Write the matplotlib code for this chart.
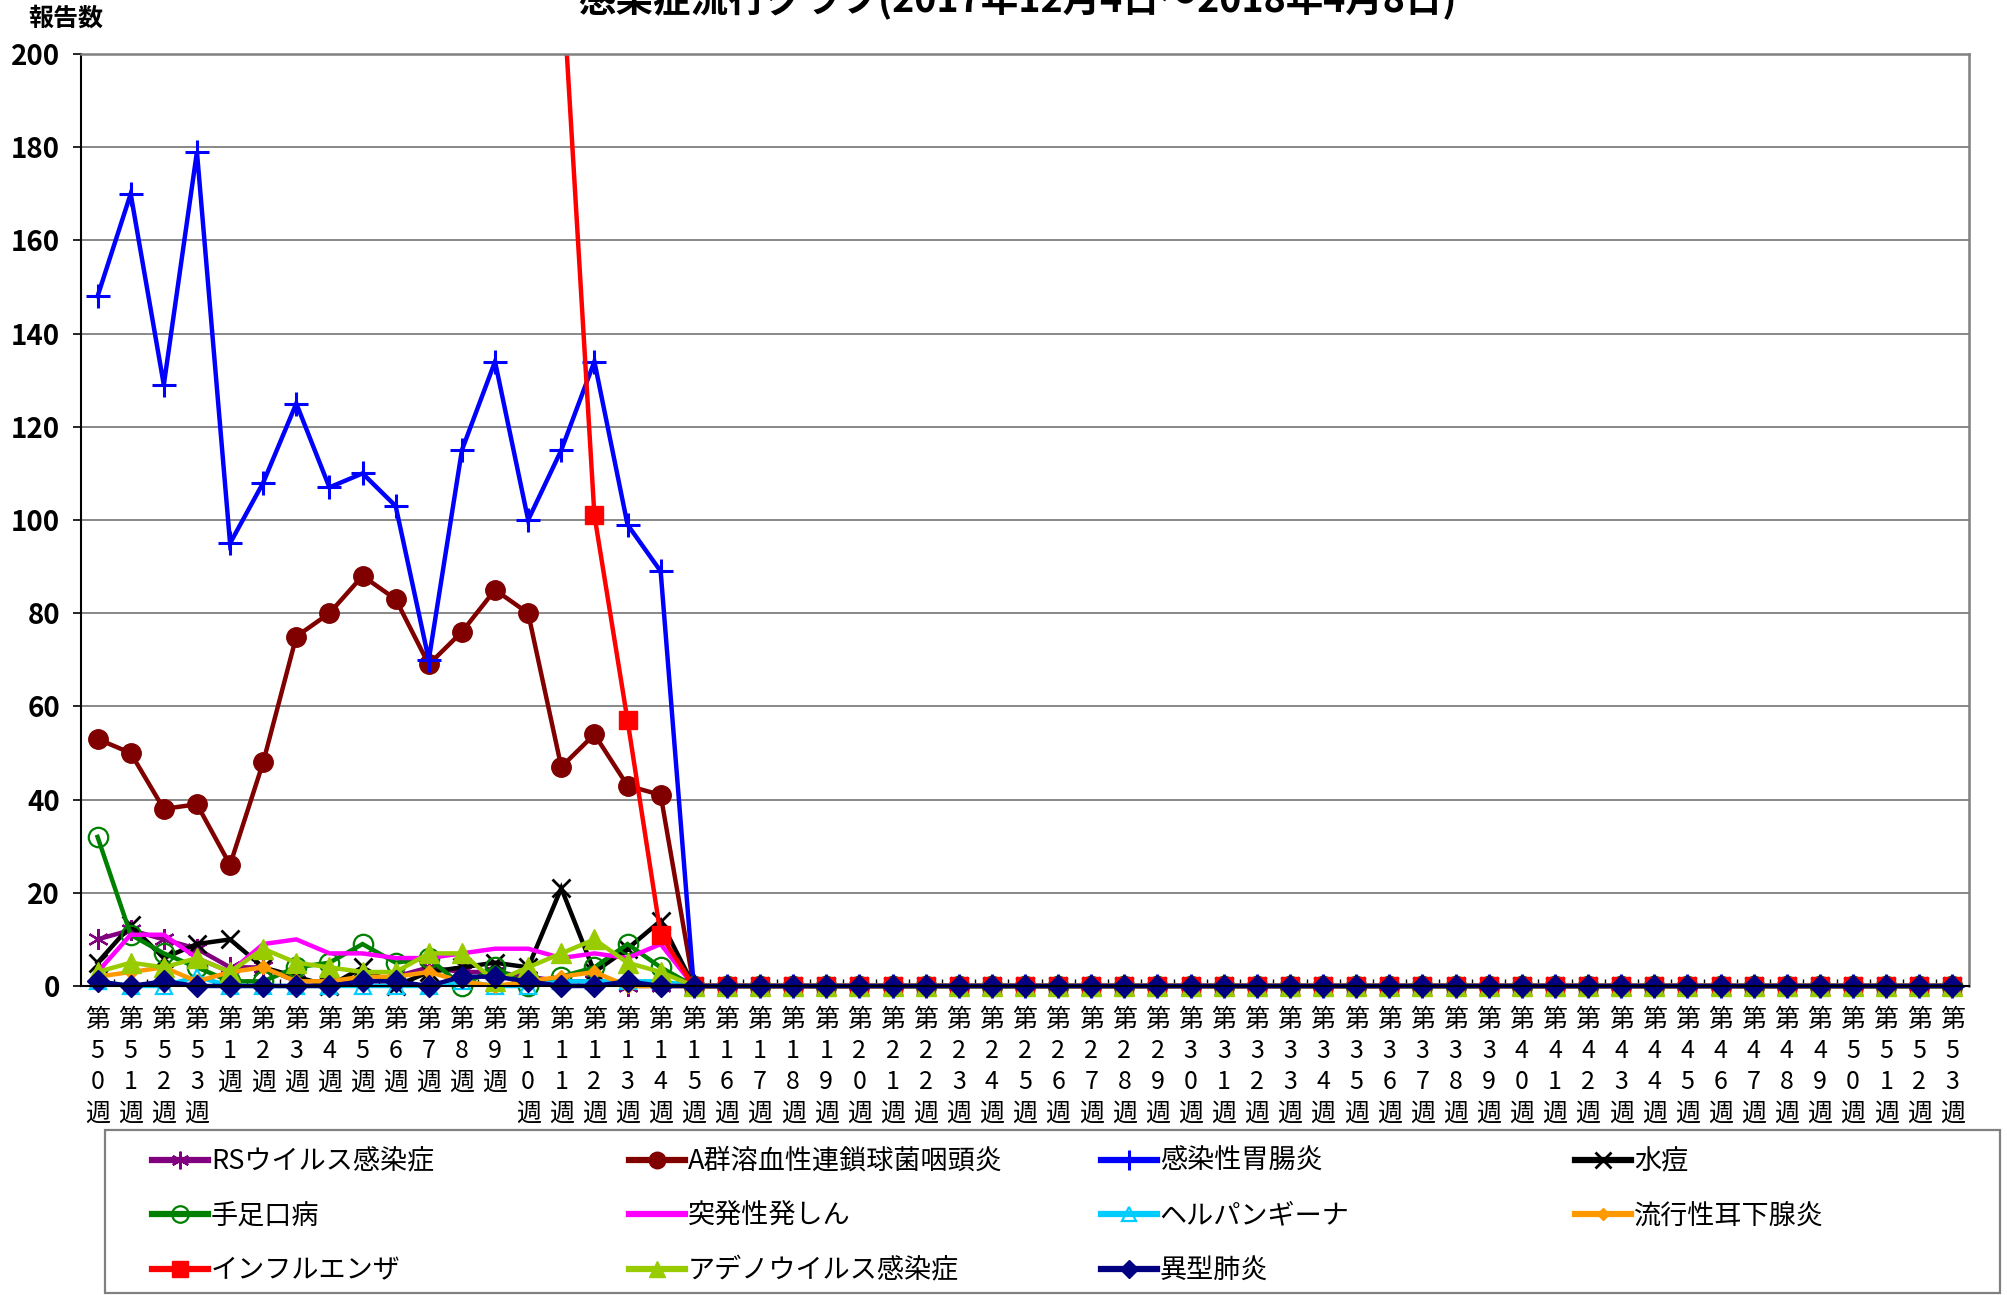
import numpy as np
import matplotlib
matplotlib.use("Agg")
import matplotlib.pyplot as plt
from matplotlib.patches import Rectangle
from matplotlib.lines import Line2D

plt.rcParams['font.family'] = ['Noto Sans CJK JP', 'DejaVu Sans']

# ---------------- data ----------------
weeks = [50, 51, 52, 53] + list(range(1, 54))
week_labels = ['\n'.join(list(f'第{w}週')) for w in weeks]

N = None  # value above the chart's 200 ceiling, not readable

rs = [10, 12, 10, 8, 4, 4, 1, 1, 1, 2, 4, 3, 3, 2, 1, 1, 0, 0, 0,
      0, 0, 0, 0, 0, 0, 0, 0, 0, 0, 0, 0, 0, 0, 0, 0, 0, 0, 0, 0,
      0, 0, 0, 0, 0, 0, 0, 0, 0, 0, 0, 0, 0, 0, 0, 0, 0, 0]
strep_a = [53, 50, 38, 39, 26, 48, 75, 80, 88, 83, 69, 76, 85, 80, 47, 54, 43, 41, 0,
           0, 0, 0, 0, 0, 0, 0, 0, 0, 0, 0, 0, 0, 0, 0, 0, 0, 0, 0, 0,
           0, 0, 0, 0, 0, 0, 0, 0, 0, 0, 0, 0, 0, 0, 0, 0, 0, 0]
gastro = [148, 170, 129, 179, 95, 108, 125, 107, 110, 103, 70, 115, 134, 100, 115, 134, 99, 89, 0,
          0, 0, 0, 0, 0, 0, 0, 0, 0, 0, 0, 0, 0, 0, 0, 0, 0, 0, 0, 0,
          0, 0, 0, 0, 0, 0, 0, 0, 0, 0, 0, 0, 0, 0, 0, 0, 0, 0]
varicella = [5, 13, 6, 9, 10, 4, 2, 0, 4, 0, 3, 4, 5, 4, 21, 3, 8, 14, 0,
             0, 0, 0, 0, 0, 0, 0, 0, 0, 0, 0, 0, 0, 0, 0, 0, 0, 0, 0, 0,
             0, 0, 0, 0, 0, 0, 0, 0, 0, 0, 0, 0, 0, 0, 0, 0, 0, 0]
hfmd = [32, 11, 7, 4, 1, 1, 4, 5, 9, 5, 6, 0, 4, 0, 2, 4, 9, 4, 0,
        0, 0, 0, 0, 0, 0, 0, 0, 0, 0, 0, 0, 0, 0, 0, 0, 0, 0, 0, 0,
        0, 0, 0, 0, 0, 0, 0, 0, 0, 0, 0, 0, 0, 0, 0, 0, 0, 0]
exanthem = [3, 11, 11, 6, 3, 9, 10, 7, 7, 6, 6, 7, 8, 8, 6, 7, 6, 9, 0,
            0, 0, 0, 0, 0, 0, 0, 0, 0, 0, 0, 0, 0, 0, 0, 0, 0, 0, 0, 0,
            0, 0, 0, 0, 0, 0, 0, 0, 0, 0, 0, 0, 0, 0, 0, 0, 0, 0]
herpangina = [1, 0, 0, 2, 0, 0, 0, 0, 0, 0, 0, 1, 0, 0, 1, 1, 1, 1, 0,
              0, 0, 0, 0, 0, 0, 0, 0, 0, 0, 0, 0, 0, 0, 0, 0, 0, 0, 0, 0,
              0, 0, 0, 0, 0, 0, 0, 0, 0, 0, 0, 0, 0, 0, 0, 0, 0, 0]
mumps = [2, 3, 4, 1, 3, 4, 1, 1, 2, 2, 3, 1, 0, 1, 2, 3, 0, 0, 0,
         0, 0, 0, 0, 0, 0, 0, 0, 0, 0, 0, 0, 0, 0, 0, 0, 0, 0, 0, 0,
         0, 0, 0, 0, 0, 0, 0, 0, 0, 0, 0, 0, 0, 0, 0, 0, 0, 0]
influenza = [N, N, N, N, N, N, N, N, N, N, N, N, N, N, 220, 101, 57, 11, 0,
             0, 0, 0, 0, 0, 0, 0, 0, 0, 0, 0, 0, 0, 0, 0, 0, 0, 0, 0, 0,
             0, 0, 0, 0, 0, 0, 0, 0, 0, 0, 0, 0, 0, 0, 0, 0, 0, 0]
adeno = [3, 5, 4, 6, 3, 8, 5, 4, 3, 3, 7, 7, 1, 4, 7, 10, 5, 3, 0,
         0, 0, 0, 0, 0, 0, 0, 0, 0, 0, 0, 0, 0, 0, 0, 0, 0, 0, 0, 0,
         0, 0, 0, 0, 0, 0, 0, 0, 0, 0, 0, 0, 0, 0, 0, 0, 0, 0]
mycoplasma = [1, 0, 1, 0, 0, 0, 0, 0, 1, 1, 0, 2, 2, 1, 0, 0, 1, 0, 0,
              0, 0, 0, 0, 0, 0, 0, 0, 0, 0, 0, 0, 0, 0, 0, 0, 0, 0, 0, 0,
              0, 0, 0, 0, 0, 0, 0, 0, 0, 0, 0, 0, 0, 0, 0, 0, 0, 0]

series_names = ['RSウイルス感染症', 'A群溶血性連鎖球菌咽頭炎', '感染性胃腸炎', '水痘',
                '手足口病', '突発性発しん', 'ヘルパンギーナ', '流行性耳下腺炎',
                'インフルエンザ', 'アデノウイルス感染症', '異型肺炎']
series_values = [rs, strep_a, gastro, varicella, hfmd, exanthem, herpangina, mumps,
                 influenza, adeno, mycoplasma]

title = '感染症流行グラフ(2017年12月4日～2018年4月8日)'
y_label = '報告数'
y_ticks = list(range(0, 201, 20))

# ---------------- styles ----------------
styles = [
    dict(color='#800080', marker=(6, 2, 0), ms=15, mew=1.6),
    dict(color='#800000', marker='o', ms=14),
    dict(color='#0000FF', marker='+', ms=17, mew=2.2),
    dict(color='#000000', marker='x', ms=13, mew=2.0),
    dict(color='#008000', marker='o', ms=14, mew=1.6, mfc='none'),
    dict(color='#FF00FF', marker=None),
    dict(color='#00CCFF', marker='^', ms=12, mew=1.6, mfc='none'),
    dict(color='#FF9900', marker='D', ms=7),
    dict(color='#FF0000', marker='s', ms=13),
    dict(color='#99CC00', marker='^', ms=14),
    dict(color='#000080', marker='D', ms=11),
]

W, H = 2007, 1295
fig = plt.figure(figsize=(W / 100, H / 100), dpi=100)
ax = fig.add_axes([81 / W, 1 - 986 / H, (1969 - 81) / W, (986 - 54) / H])

x = np.arange(len(weeks))
clip = Rectangle((-0.02, -0.06), 1.04, 1.06, transform=ax.transAxes)
for name, vals, st in zip(series_names, series_values, styles):
    v = np.array([np.nan if val is None else val for val in vals], dtype=float)
    line, = ax.plot(x, v, lw=3.2, label=name, solid_joinstyle='miter', **st)
    line.set_clip_path(clip)

ax.set_xlim(-0.5, len(weeks) - 0.5)
ax.set_ylim(0, 200)
ax.set_yticks(y_ticks)
ax.set_yticklabels([str(t) for t in y_ticks], fontsize=20, fontweight='bold')
ax.set_xticks(x)
ax.set_xticklabels(week_labels, fontsize=18, linespacing=1.26, va='top')
ax.set_xticks(np.arange(len(weeks) - 1) + 0.5, minor=True)
ax.tick_params(axis='x', which='major', length=0, pad=15)
ax.tick_params(axis='x', which='minor', direction='in', length=5, width=1, color='black')
ax.tick_params(axis='y', which='major', direction='out', length=6, width=1.2, pad=9)

ax.yaxis.grid(True, color='#7f7f7f', lw=1.3)
ax.set_axisbelow(True)
for s in ['left', 'bottom']:
    ax.spines[s].set_color('black')
    ax.spines[s].set_linewidth(1.5)
for s in ['top', 'right']:
    ax.spines[s].set_color('#808080')
    ax.spines[s].set_linewidth(1.8)

fig.text(28 / W, 1 - 7 / H, y_label, fontsize=18, fontweight='bold', ha='left', va='top')
fig.text(1018 / W, 1 - 12 / H, title, fontsize=27, fontweight='bold', ha='center', va='baseline')

# ---------------- legend ----------------
fig.add_artist(Rectangle((105 / W, 1 - 1293 / H), (2000 - 105) / W, (1293 - 1130) / H,
                         transform=fig.transFigure, fill=False, edgecolor='#808080', lw=1.6))

col_x = [152, 629, 1101, 1575]
col_members = [[0, 4, 8], [1, 5, 9], [2, 6, 10], [3, 7]]
for cx, members in zip(col_x, col_members):
    hs = []
    for i in members:
        st = dict(styles[i])
        ms = st.pop('ms', None)
        h = Line2D([], [], lw=4.5, **st)
        if ms is not None:
            h.set_markersize(ms * 0.85)
        hs.append(h)
    fig.legend(hs, [series_names[i] for i in members], loc='upper left',
               bbox_to_anchor=(cx / W, 1 - 1148 / H), frameon=False, fontsize=19.5,
               handlelength=2.05, handletextpad=0.12, labelspacing=1.02,
               borderpad=0, borderaxespad=0, numpoints=1)

fig.savefig('out.png', dpi=100)
